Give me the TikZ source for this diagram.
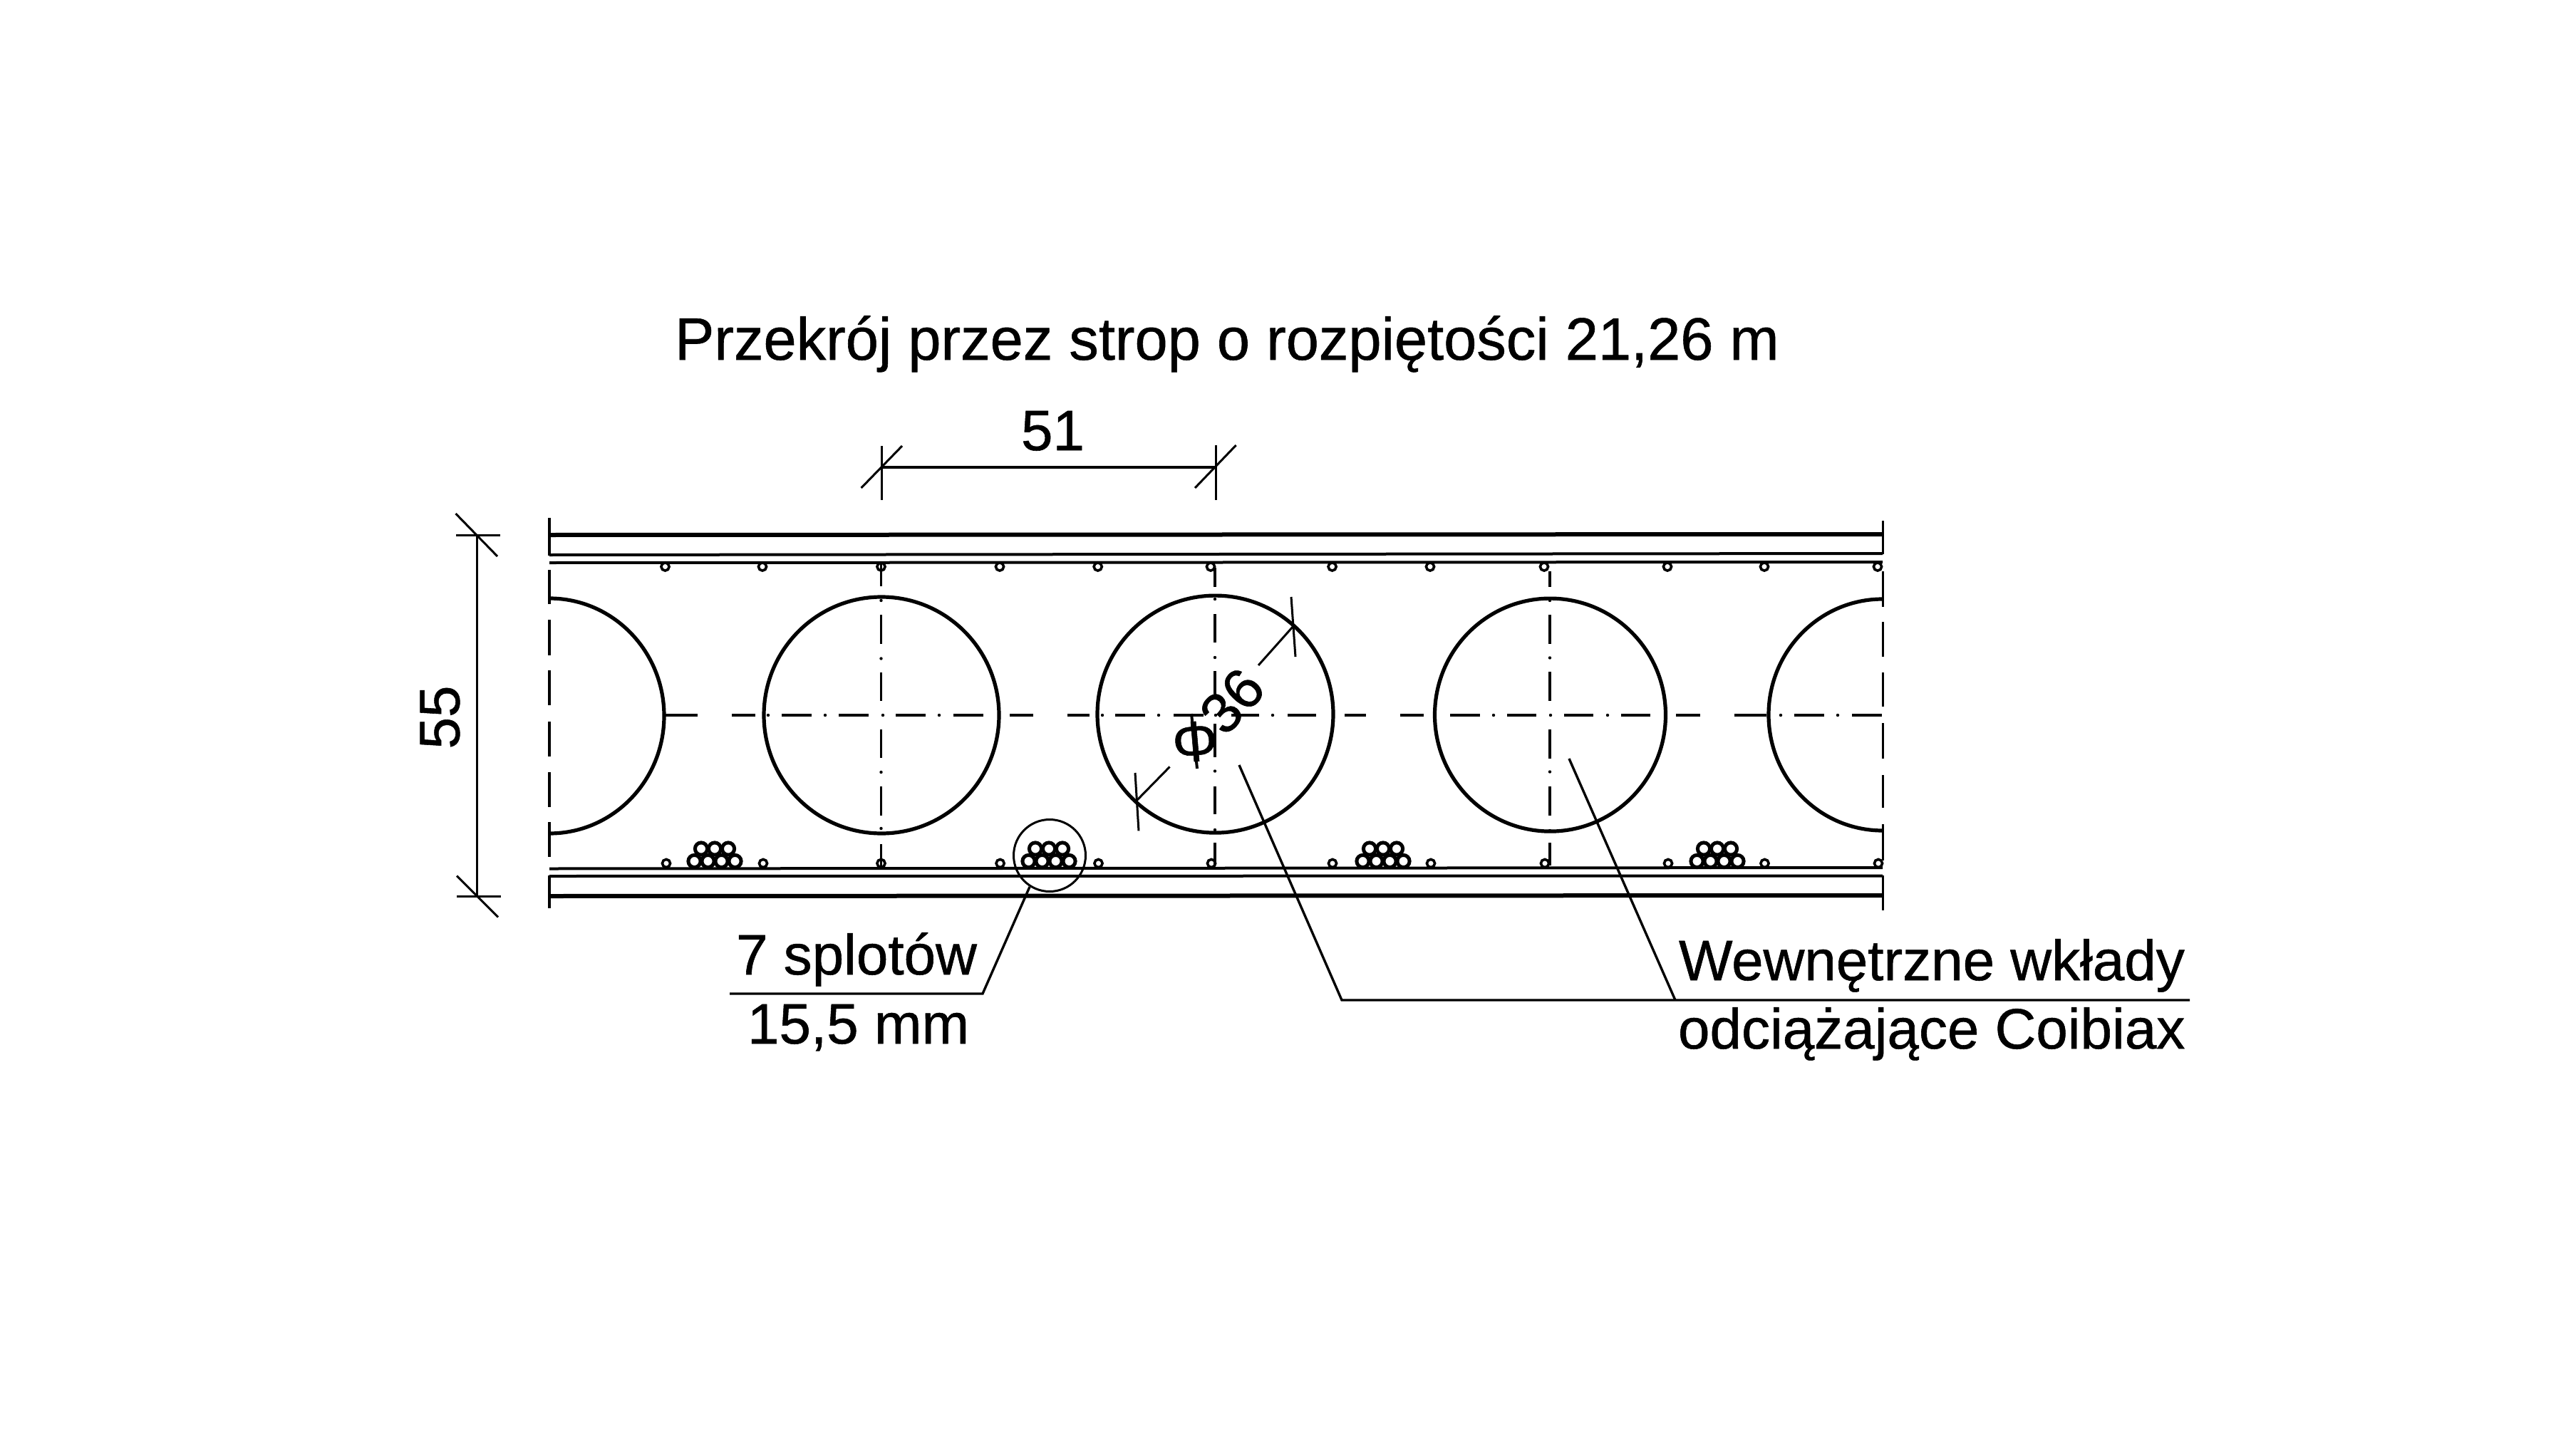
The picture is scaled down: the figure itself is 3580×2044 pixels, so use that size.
\documentclass[tikz,border=0pt]{standalone}
\usepackage{fontspec}
\setmainfont[FakeBold=0.7]{Liberation Sans}
\newfontfamily\titlefont[FakeBold=0.7,FakeStretch=0.988]{Liberation Sans}
\tikzset{
  thickline/.style={line width=6pt,black},
  slabline/.style={line width=4pt,black},
  edgeline/.style={line width=3.4pt,black},
  centerline/.style={line width=3.4pt,black},
  insert/.style={line width=5.2pt,black},
  dimline/.style={line width=3pt,black},
  leaderline/.style={line width=3.4pt,black},
  barring/.style={line width=3.6pt,black},
  strandring/.style={line width=5pt,black},
  lab/.style={inner sep=0pt,outer sep=0pt,anchor=base west,black},
  dotmark/.style={fill=black,draw=none}
}
\newcommand{\fsz}[1]{\fontsize{#1}{#1}\selectfont}
\newcommand{\strands}[1]{%
  \foreach \dx in {-19,0,19} \draw[strandring] (#1+\dx,1191.5) circle [radius=8.6];
  \foreach \dx in {-28.5,-9.5,9.5,28.5} \draw[strandring] (#1+\dx,1209) circle [radius=8.6];
}
\begin{document}
\begin{tikzpicture}[x=1pt,y=-1pt]
\useasboundingbox (0,0) rectangle (3580,2044);
\fill[white] (0,0) rectangle (3580,2044);

% title and labels
\node[lab] (title) at (947,505) {\titlefont\fsz{84}Przekrój przez strop o rozpiętości 21,26 m};
\node[lab] (dimA) at (1433,632) {\fsz{80}51};
\node[inner sep=0pt,rotate=90,black] (dimB) at (617.5,1007) {\fsz{80}55};
\node[lab] (strandsA) at (1033,1368) {\fsz{80}7 splotów};
\node[lab] (strandsB) at (1049,1465) {\fsz{80}15,5 mm};
\node[lab] (coreA) at (2356,1376) {\fsz{80}Wewnętrzne wkłady};
\node[lab] (coreB) at (2355,1472) {\fsz{80}odciążające Coibiax};

% slab lines
\draw[thickline] (771,751) -- (2642,750);
\draw[slabline] (771,779) -- (2642,777);
\draw[slabline] (771,790) -- (2642,789);
\draw[slabline] (771,1219.5) -- (2642,1218);
\draw[slabline] (771,1230) -- (2642,1229.5);
\draw[thickline] (771,1258) -- (2642,1257);
\draw[edgeline] (771,727) -- (771,780);
\draw[edgeline] (771,1229) -- (771,1275);
\draw[edgeline] (2642.5,731) -- (2642.5,778);
\draw[edgeline] (2642.5,1229) -- (2642.5,1278);

% dashed edges
\foreach \a/\b in {800/848,870/920,941/990,1013/1062,1084/1133,1154/1203}
  \draw[edgeline] (771,\a) -- (771,\b);
\foreach \a/\b in {802/852,873/922,944/992,1015/1065,1088/1134,1157/1208}
  \draw[edgeline] (2642.5,\a) -- (2642.5,\b);

% horizontal centre line
\foreach \a/\b in {934/979,1027/1060,1097/1139,1177/1219,1257/1299,1338/1380,1417/1450,1498/1529,1565/1607,1647/1689,1728/1767,1807/1847,1887/1917,1965/1998,2035/2077,2115/2156,2195/2236,2275/2316,2352/2386,2434/2479,2518/2560,2599/2641}
  \draw[centerline] (\a,1004) -- (\b,1004);
\foreach \a in {1078,1158,1239,1318,1547,1626,1706,1786,2096,2176,2256,2499,2579}
  \fill[dotmark] (\a,1004) circle [radius=2.2];

% vertical centre lines
\foreach \a/\b in {792/823,863/904,944/984,1024/1064,1104/1145,1185/1218}
  \draw[centerline] (1236.5,\a) -- (1236.5,\b);
\foreach \a in {843,924.5,1084,1163}
  \fill[dotmark] (1236.5,\a) circle [radius=2.2];
\foreach \a/\b in {797/824,862/902,942/982,1016/1063,1104/1143,1183/1215}
  \draw[centerline] (1705,\a) -- (1705,\b);
\foreach \a in {841,923,1082.5,1165}
  \fill[dotmark] (1705,\a) circle [radius=2.2];
\foreach \a/\b in {802/824,863/904,943/984,1024/1065,1104/1145,1183/1215}
  \draw[centerline] (2175,\a) -- (2175,\b);
\foreach \a in {843,923.5,1083.5,1166}
  \fill[dotmark] (2175,\a) circle [radius=2.2];

% void formers
\draw[insert] (771,840) arc [start angle=-90,end angle=90,x radius=161,y radius=165];
\draw[insert] (1237,1004) ellipse [x radius=165,y radius=166];
\draw[insert] (1705.5,1002.6) ellipse [x radius=165.5,y radius=166.5];
\draw[insert] (2175.5,1003.6) ellipse [x radius=162,y radius=163.5];
\draw[insert] (2642,841) arc [start angle=-90,end angle=-270,x radius=160,y radius=162.5];

% small bars
\foreach \a in {933.5,1070,1236.5,1403,1540.7,1699,1869.6,2007,2167,2340,2476,2635}
  \draw[barring] (\a,795.5) circle [radius=5.6];
\foreach \a in {935,1071,1236.5,1403.6,1541.5,1700,1870,2008,2168,2341,2476.5,2636}
  \draw[barring] (\a,1212) circle [radius=5.6];

% strands
\strands{1003}
\strands{1472}
\strands{1941}
\strands{2410}
\draw[dimline] (1473,1201) circle [radius=50.5];

% leaders
\coordinate (sA) at (1445,1245);
\coordinate (sB) at (1379,1395);
\coordinate (sC) at (1024,1395);
\draw[leaderline,line join=miter] (sA) -- (sB) -- (sC);
\coordinate (cA) at (1739,1074);
\coordinate (cB) at (1883,1404);
\coordinate (cC) at (3073,1404);
\coordinate (cD) at (2202,1065);
\coordinate (cE) at (2351,1404);
\draw[leaderline] (cA) -- (cB) -- (cC);
\draw[leaderline] (cD) -- (cE);

% dimension 51
\draw[dimline,line width=4pt] (1237.5,655.7) -- (1706,655.7);
\draw[dimline] (1237.5,626) -- (1237.5,702);
\draw[dimline] (1706,625) -- (1706,702);
\draw[dimline] (1266,626) -- (1208.6,685);
\draw[dimline] (1734.6,625) -- (1677,685);

% dimension 55
\draw[dimline] (669,751) -- (669,1258);
\draw[dimline] (640,751) -- (702,751);
\draw[dimline] (641,1258) -- (703,1258);
\draw[dimline] (639.5,721) -- (698,781);
\draw[dimline] (641,1229.5) -- (699,1287.5);

% dimension phi 36
\draw[dimline] (1593,1085) -- (1598,1166.4);
\draw[dimline] (1812,838) -- (1818,922);
\draw[dimline] (1641.6,1076.4) -- (1594,1125);
\draw[dimline] (1815,879) -- (1766,934);
\node[inner sep=0pt,rotate=5,black] (phi) at (1677,1041) {\fsz{80}Φ};
\draw[leaderline,line width=4pt] (1672,1002) -- (1680,1079);
\node[inner sep=0pt,rotate=48,black] (dimC) at (1729,984) {\fsz{80}36};
\end{tikzpicture}
\end{document}
